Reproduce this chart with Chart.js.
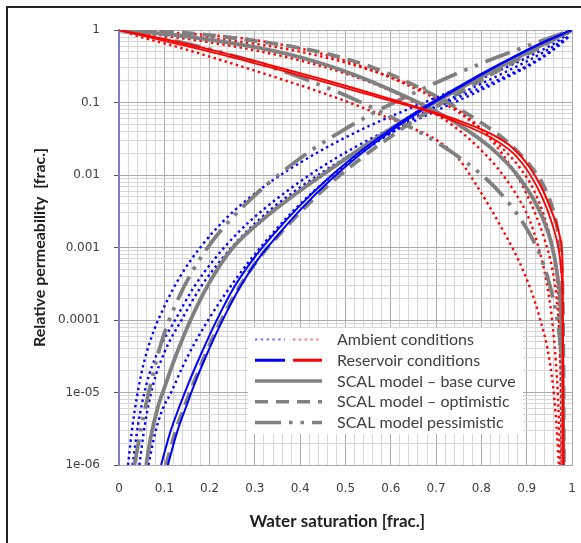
<!DOCTYPE html>
<html><head><meta charset="utf-8">
<script src="https://cdn.jsdelivr.net/npm/chart.js@4.4.0/dist/chart.umd.min.js"></script>
<style>
html,body{margin:0;padding:0;background:#fff;overflow:hidden;width:581px;height:543px;}
canvas{display:block;}
</style></head><body>
<canvas id="c" width="581" height="543" style="width:581px;height:543px"></canvas>
<script>
// ---------- tick labels ----------
const xTickValues = [0,0.1,0.2,0.3,0.4,0.5,0.6,0.7,0.8,0.9,1];
const xTickLabels = ['0','0.1','0.2','0.3','0.4','0.5','0.6','0.7','0.8','0.9','1'];
const yTickValues = [1e-6,1e-5,1e-4,1e-3,0.01,0.1,1];
const yTickLabels = ['1e-06','1e-05','0.0001','0.001','0.01','0.1','1'];
const xTitle = 'Water saturation [frac.]';
const yTitle = 'Relative permeability  [frac.]';

// ---------- water relative permeability ----------
// Reservoir conditions (blue solid)
const swWatRes1 = [0.093,0.113,0.133,0.153,0.179,0.212,0.254,0.295,0.345,0.395,0.456,0.516,0.577,0.637,0.698,0.778,0.859,0.929,1.0];
const krWatRes1 = [1e-6,2.82e-6,6.31e-6,1.32e-5,3.16e-5,8.91e-5,0.000282,0.000676,0.00162,0.00355,0.00832,0.0174,0.0339,0.0617,0.107,0.209,0.389,0.646,1];
const swWatRes2 = [0.108,0.128,0.148,0.167,0.192,0.225,0.267,0.306,0.356,0.405,0.465,0.524,0.584,0.643,0.703,0.782,0.861,0.931,1.0];
const krWatRes2 = [1e-6,2.82e-6,6.31e-6,1.32e-5,3.16e-5,8.91e-5,0.000282,0.000676,0.00162,0.00355,0.00832,0.0174,0.0339,0.0617,0.107,0.209,0.389,0.646,1];
// Ambient conditions (blue dotted)
const swWatAmb1 = [0.020,0.030,0.049,0.071,0.101,0.138,0.182,0.233,0.285,0.340,0.400,0.470,0.550,0.635,0.720,0.800,0.860,0.920,0.970,1.0];
const krWatAmb1 = [1e-6,3.55e-6,1.78e-5,5.62e-5,0.000158,0.000427,0.00105,0.0024,0.00468,0.00851,0.0148,0.0263,0.0468,0.0794,0.132,0.214,0.316,0.479,0.708,1];
const swWatAmb2 = [0.030,0.042,0.060,0.085,0.124,0.165,0.212,0.265,0.320,0.380,0.445,0.520,0.600,0.680,0.760,0.840,0.910,0.960,0.995];
const krWatAmb2 = [1e-6,3.55e-6,1.26e-5,3.55e-5,0.0001,0.000282,0.000708,0.00166,0.00339,0.00661,0.0126,0.024,0.0437,0.0759,0.126,0.209,0.347,0.55,0.85];
const swWatAmb3 = [0.045,0.057,0.075,0.100,0.138,0.180,0.228,0.282,0.340,0.400,0.470,0.545,0.625,0.705,0.785,0.860,0.925,0.970,0.995];
const krWatAmb3 = [1e-6,3.55e-6,1.26e-5,3.55e-5,0.0001,0.000282,0.000708,0.00166,0.00355,0.00676,0.0132,0.0251,0.0457,0.0794,0.135,0.229,0.38,0.603,0.832];
const swWatAmb4 = [0.065,0.080,0.097,0.115,0.140,0.167,0.197,0.226,0.285,0.344,0.400,0.460,0.530,0.605,0.680,0.760,0.840,0.910,0.960,0.990];
const krWatAmb4 = [1e-6,2.82e-6,6.03e-6,1e-5,2.24e-5,4.79e-5,0.0001,0.000191,0.000617,0.0017,0.00398,0.00871,0.0191,0.0398,0.0759,0.138,0.24,0.398,0.603,0.794];
// SCAL model (grey)
const swWatBase = [0.060,0.070,0.085,0.101,0.125,0.158,0.200,0.249,0.320,0.390,0.460,0.530,0.600,0.680,0.760,0.840,0.920,1.0];
const krWatBase = [1e-6,2.4e-6,6.03e-6,1.2e-5,3.16e-5,0.0001,0.000331,0.000955,0.00251,0.0055,0.0112,0.0224,0.0437,0.0871,0.166,0.309,0.562,1];
const swWatOpt = [0.104,0.124,0.144,0.164,0.189,0.222,0.264,0.304,0.354,0.404,0.464,0.524,0.584,0.644,0.704,0.784,0.862,0.932,1.0];
const krWatOpt = [1e-6,2.82e-6,6.31e-6,1.32e-5,3.16e-5,8.91e-5,0.000275,0.000646,0.00151,0.00324,0.00741,0.0151,0.0288,0.0525,0.0912,0.178,0.339,0.589,1];
const swWatPes = [0.034,0.054,0.072,0.094,0.124,0.160,0.205,0.256,0.300,0.360,0.420,0.490,0.560,0.630,0.710,0.800,0.880,0.950,1.0];
const krWatPes = [1e-6,4.68e-6,1.48e-5,5.01e-5,0.000158,0.000447,0.0012,0.00282,0.00525,0.011,0.0209,0.0398,0.0708,0.117,0.2,0.347,0.537,0.776,1];

// ---------- oil relative permeability ----------
// Reservoir conditions (red solid)
const swOilRes1 = [0,0.100,0.211,0.322,0.432,0.500,0.560,0.630,0.680,0.746,0.820,0.870,0.905,0.935,0.955,0.968,0.975,0.978,0.9795,0.981];
const krOilRes1 = [1,0.75,0.519,0.343,0.224,0.17,0.132,0.0977,0.0785,0.0575,0.0372,0.0234,0.0132,0.00631,0.00316,0.0019,0.00126,0.000891,0.000251,1e-6];
const swOilRes2 = [0,0.100,0.211,0.322,0.432,0.500,0.560,0.630,0.680,0.746,0.820,0.870,0.905,0.935,0.955,0.968,0.976,0.979,0.981];
const krOilRes2 = [1,0.708,0.484,0.32,0.209,0.158,0.124,0.0933,0.0759,0.0537,0.0331,0.02,0.0107,0.00479,0.00224,0.00112,0.000501,0.000158,1e-6];
// Ambient conditions (red dotted)
const swOilAmb1 = [0,0.034,0.138,0.248,0.359,0.432,0.499,0.5615,0.635,0.709,0.750,0.790,0.849,0.893,0.927,0.952,0.964,0.971];
const krOilAmb1 = [1,0.851,0.562,0.347,0.209,0.148,0.105,0.0741,0.0479,0.0282,0.0166,0.00708,0.00166,0.000468,0.000117,2.4e-5,5.01e-6,1e-6];
const swOilAmb2 = [0,0.100,0.200,0.285,0.403,0.477,0.5615,0.658,0.702,0.746,0.783,0.820,0.857,0.886,0.915,0.945,0.960,0.967,0.972,0.975,0.977];
const krOilAmb2 = [1,0.933,0.851,0.75,0.55,0.417,0.275,0.151,0.11,0.0759,0.0513,0.0331,0.02,0.0123,0.00631,0.002,0.000794,0.000355,0.0001,1.58e-5,1e-6];
const swOilAmb3 = [0,0.100,0.200,0.300,0.400,0.500,0.600,0.680,0.740,0.790,0.835,0.875,0.905,0.926,0.943,0.955,0.964,0.970,0.974];
const krOilAmb3 = [1,0.832,0.676,0.525,0.38,0.251,0.145,0.0813,0.0468,0.0251,0.0126,0.00562,0.00251,0.001,0.000355,0.000112,2.82e-5,6.31e-6,1e-6];
const swOilAmb4 = [0,0.100,0.200,0.300,0.400,0.500,0.600,0.680,0.740,0.790,0.830,0.865,0.895,0.920,0.940,0.955,0.965,0.972,0.976,0.978];
const krOilAmb4 = [1,0.891,0.776,0.646,0.501,0.355,0.224,0.138,0.0851,0.049,0.0263,0.0132,0.00631,0.00282,0.00126,0.000562,0.000224,6.31e-5,1e-5,1e-6];
// SCAL model (grey)
const swOilBase = [0,0.138,0.285,0.377,0.451,0.525,0.598,0.680,0.746,0.820,0.879,0.923,0.952,0.967,0.976,0.980,0.981];
const krOilBase = [1,0.832,0.603,0.457,0.339,0.234,0.151,0.0871,0.0513,0.024,0.01,0.00372,0.00129,0.000447,0.0001,1e-5,1e-6];
const swOilOpt = [0,0.079,0.241,0.373,0.467,0.5615,0.665,0.731,0.800,0.864,0.905,0.935,0.955,0.968,0.975,0.979,0.981,0.982];
const krOilOpt = [1,0.977,0.794,0.603,0.457,0.302,0.158,0.0955,0.0525,0.0263,0.0141,0.00759,0.0038,0.00178,0.000794,0.000251,3.16e-5,1e-6];
const swOilPes = [0,0.138,0.300,0.403,0.488,0.5615,0.672,0.731,0.805,0.842,0.880,0.910,0.938,0.958,0.970,0.977];
const krOilPes = [1,0.676,0.363,0.219,0.135,0.0832,0.0363,0.0214,0.00955,0.00562,0.00282,0.00141,0.000562,0.0002,7.94e-5,3.16e-5];

// ---------- styles ----------
const BLUE = '#0000ff', RED = '#ff0000', GREY = '#808080';
const MAJOR = '#a9a9a9', MINOR = '#d6d6d6';
const DOT = [2.4, 3.4];
const DASH = [13, 8];
const DASHDOT = [26, 8, 3.5, 8, 3.5, 8];

const pts = (xs, ys) => xs.map((x, i) => ({x: x, y: ys[i]}));
function ds(xs, ys, color, width, dash) {
  return {data: pts(xs, ys), borderColor: color, borderWidth: width, borderDash: dash || [],
    pointRadius: 0, showLine: true, fill: false, cubicInterpolationMode: 'monotone', borderCapStyle: 'butt'};
}

const datasets = [
  ds(swOilRes1, krOilRes1, RED, 2),
  ds(swOilRes2, krOilRes2, RED, 1.8),
  ds(swWatRes1, krWatRes1, BLUE, 2),
  ds(swWatRes2, krWatRes2, BLUE, 2),
  ds(swWatBase, krWatBase, GREY, 3.8),
  ds(swWatOpt, krWatOpt, GREY, 3.8, DASH),
  ds(swWatPes, krWatPes, GREY, 3.8, DASHDOT),
  ds(swOilBase, krOilBase, GREY, 3.8),
  ds(swOilOpt, krOilOpt, GREY, 3.8, DASH),
  ds(swOilPes, krOilPes, GREY, 3.8, DASHDOT),
  ds(swWatAmb1, krWatAmb1, BLUE, 2.4, DOT),
  ds(swWatAmb2, krWatAmb2, BLUE, 2.4, DOT),
  ds(swWatAmb3, krWatAmb3, BLUE, 2.4, DOT),
  ds(swWatAmb4, krWatAmb4, BLUE, 2.4, DOT),
  ds(swOilAmb1, krOilAmb1, RED, 2.4, DOT),
  ds(swOilAmb2, krOilAmb2, RED, 2.4, DOT),
  ds(swOilAmb3, krOilAmb3, RED, 2.4, DOT),
  ds(swOilAmb4, krOilAmb4, RED, 2.4, DOT)
];

// grid tick positions
const xGrid = [];
for (let i = 0; i <= 50; i++) xGrid.push(Math.round(i * 2) / 100);
const yGrid = [];
for (let e = -6; e <= 0; e++) {
  const d = Math.pow(10, e);
  yGrid.push(d);
  if (e < 0) for (let m = 2; m <= 9; m++) yGrid.push(parseFloat((m * d).toPrecision(3)));
}
const xIdx = v => xTickValues.findIndex(t => Math.abs(t - v) < 1e-9);
const yIdx = v => yTickValues.findIndex(t => Math.abs(Math.log10(t) - Math.log10(v)) < 1e-6);

const legendRows = [
  {text: 'Ambient conditions', samples: [{c: '#6f6fff', w: 2, d: DOT, a: 7, b: 37}, {c: '#ff7a7a', w: 2, d: DOT, a: 45, b: 74}]},
  {text: 'Reservoir conditions', samples: [{c: BLUE, w: 3, d: [], a: 7, b: 37}, {c: RED, w: 3, d: [], a: 45, b: 74}]},
  {text: 'SCAL model \u2013 base curve', samples: [{c: GREY, w: 3.5, d: [], a: 7, b: 74}]},
  {text: 'SCAL model \u2013 optimistic', samples: [{c: GREY, w: 3.5, d: DASH, a: 7, b: 74}]},
  {text: 'SCAL model pessimistic', samples: [{c: GREY, w: 3.5, d: DASHDOT, a: 7, b: 74}]}
];

const framePlugin = {
  id: 'frameAndTitle',
  beforeDraw(chart) {
    const ctx = chart.ctx;
    ctx.save();
    ctx.fillStyle = '#ffffff';
    ctx.fillRect(0, 0, chart.width, chart.height);
    ctx.strokeStyle = '#222222'; ctx.lineWidth = 2;
    ctx.beginPath();
    ctx.moveTo(7, chart.height); ctx.lineTo(7, 7); ctx.lineTo(chart.width, 7);
    ctx.stroke();
    ctx.restore();
  },
  afterDraw(chart) {
    const ctx = chart.ctx, ca = chart.chartArea;
    ctx.save();
    ctx.fillStyle = '#1f1f1f';
    ctx.font = 'bold 17px Lato';
    ctx.textAlign = 'center'; ctx.textBaseline = 'middle';
    ctx.fillText(xTitle, ca.left + 0.482 * (ca.right - ca.left), chart.height - 21);
    ctx.restore();
  }
};

const legendPlugin = {
  id: 'boxLegend',
  afterDatasetsDraw(chart) {
    const ctx = chart.ctx, ca = chart.chartArea;
    const x0 = ca.left + 129, y0 = ca.top + 298, w = 275, h = 106;
    ctx.save();
    ctx.fillStyle = '#ffffff';
    ctx.fillRect(x0, y0, w, h);
    legendRows.forEach((r, i) => {
      const y = y0 + 11.5 + i * 20.75;
      r.samples.forEach(s => {
        ctx.beginPath();
        ctx.strokeStyle = s.c; ctx.lineWidth = s.w; ctx.setLineDash(s.d); ctx.lineCap = 'butt';
        ctx.moveTo(x0 + s.a, y); ctx.lineTo(x0 + s.b, y); ctx.stroke();
      });
      ctx.setLineDash([]);
      ctx.fillStyle = '#404040';
      ctx.font = '16px Lato';
      ctx.textBaseline = 'middle';
      ctx.textAlign = 'left';
      ctx.fillText(r.text, x0 + 89, y + 0.5);
    });
    ctx.restore();
  }
};

function draw() {
  new Chart(document.getElementById('c'), {
    type: 'scatter',
    data: {datasets: datasets},
    plugins: [framePlugin, legendPlugin],
    options: {
      responsive: false, animation: false, devicePixelRatio: 1,
      layout: {padding: {left: 0, top: 30, right: 9, bottom: 0}},
      plugins: {legend: {display: false}, tooltip: {enabled: false}},
      scales: {
        x: {
          type: 'linear', min: 0, max: 1,
          afterBuildTicks: s => { s.ticks = xGrid.map(v => ({value: v})); },
          afterFit: s => { s.height = 78; },
          ticks: {autoSkip: false, maxRotation: 0, padding: 2, color: '#404040',
            font: {family: 'DejaVu Sans', size: 12},
            callback: v => { const i = xIdx(v); return i >= 0 ? xTickLabels[i] : ''; }},
          grid: {color: c => (xIdx(c.tick.value) >= 0 ? MAJOR : MINOR), lineWidth: 1,
            drawTicks: true, tickLength: 15, tickColor: 'rgba(0,0,0,0)'},
          border: {color: MAJOR, width: 1},
          title: {display: false}
        },
        y: {
          type: 'logarithmic', min: 1e-6, max: 1,
          afterBuildTicks: s => { s.ticks = yGrid.map(v => ({value: v})); },
          afterFit: s => { s.width = 119; },
          ticks: {autoSkip: false, padding: 14, color: '#404040',
            font: {family: 'DejaVu Sans', size: 12},
            callback: v => { const i = yIdx(v); return i >= 0 ? yTickLabels[i] : ''; }},
          grid: {color: c => (yIdx(c.tick.value) >= 0 ? MAJOR : MINOR), lineWidth: 1,
            drawTicks: true, tickLength: 5,
            tickColor: c => (yIdx(c.tick.value) >= 0 ? '#595959' : 'rgba(0,0,0,0)')},
          border: {color: '#7f7fc8', width: 2},
          title: {display: true, text: yTitle, color: '#1f1f1f',
            font: {family: 'Lato', size: 16, weight: 'bold'}, padding: {top: 30, bottom: 0}}
        }
      }
    }
  });
}

Promise.all([
  document.fonts.load('16px Lato'),
  document.fonts.load('bold 16px Lato'),
  document.fonts.load('12px "DejaVu Sans"')
]).then(draw, draw);
</script>
</body></html>
